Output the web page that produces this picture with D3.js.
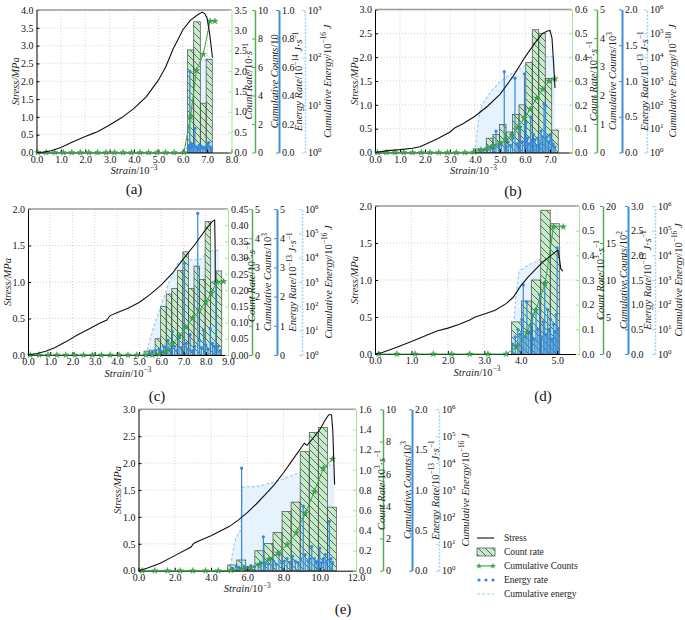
<!DOCTYPE html>
<html><head><meta charset="utf-8">
<script src="https://cdn.jsdelivr.net/npm/d3@7"></script>
<style>body{margin:0;background:#fff}svg{display:block}svg text{white-space:pre;font-family:"Liberation Serif","Times New Roman",serif}</style>
</head><body>
<svg id="chart" width="685" height="620"></svg>
<script>
// ---------------- DATA ----------------
// Panel (a)
const strainA = [0,0.3,0.6,1.0,1.5,2.0,2.3,2.5,3.0,3.5,4.0,4.5,5.0,5.3,5.6,6.0,6.3,6.6,6.8,6.9,7.0,7.1,7.22];
const stressA = [0,0.01,0.05,0.14,0.3,0.45,0.53,0.58,0.77,0.98,1.24,1.56,2.03,2.4,2.9,3.44,3.7,3.86,3.94,3.9,3.77,3.35,2.66];
const binsA = [6.2,6.45,6.72,6.96,7.21];
const countRateA = [2.52,3.21,1.21,2.29];
const cumCountStrainA = [0.05,0.4,0.75,1.1,1.45,1.8,2.15,2.5,2.85,3.2,3.55,3.9,4.25,4.6,4.95,5.3,5.65,6.05,6.32,6.56,6.84,7.12,7.32];
const cumCountsA = [0,0,0,0,0,0,0,0,0,0,0,0,0,0,0,0,0,0,2.5,5.75,6.89,9.22,9.22];
const energyStrainA = [6.22,6.27,6.29,6.33,6.38,6.44,6.5,6.55,6.61,6.67,6.73,6.8,6.87,6.94,7.01,7.07,7.13,7.18];
const energyRateA = [0.03,0.05,0.57,0.06,0.04,0.05,0.17,0.04,0.03,0.05,0.03,0.04,0.03,0.04,0.06,0.07,0.04,0.03];
const cumEnergyStrainA = [6.2,6.24,6.28,6.32,6.45,6.6,6.72,6.9,7.2];
const cumEnergyA = [1,6,30,50,55,70,88,90,92];

// Panel (b)
const strainB = [0,0.5,1.0,1.5,1.8,2.0,2.5,3.0,3.2,3.5,4.0,4.5,5.0,5.5,6.0,6.4,6.7,6.9,7.0,7.08,7.14,7.2];
const stressB = [0,0.04,0.06,0.09,0.12,0.17,0.29,0.43,0.52,0.6,0.76,0.97,1.22,1.58,2.0,2.3,2.5,2.55,2.56,2.4,1.9,1.35];
const binsB = [3.93,4.19,4.45,4.72,4.98,5.24,5.50,5.76,6.03,6.29,6.55,6.81,7.07,7.33];
const countRateB = [0.015,0.013,0.06,0.076,0.118,0.086,0.16,0.2,0.377,0.515,0.5,0.31,0.094];
const cumCountStrainB = [0.1,0.45,0.8,1.15,1.5,1.85,2.2,2.55,2.9,3.25,3.6,3.95,4.24,4.51,4.73,5.0,5.23,5.47,5.71,5.97,6.2,6.47,6.71,6.96,7.2];
const cumCountsB = [0,0,0,0,0,0,0,0,0,0,0,0.02,0.09,0.15,0.24,0.34,0.44,0.61,0.87,1.2,1.51,1.9,2.21,2.5,2.58];
const energyStrainB = [4.2,4.35,4.5,4.62,4.75,4.84,4.95,5.05,5.17,5.25,5.33,5.42,5.5,5.6,5.68,5.75,5.82,5.9,5.98,6.04,6.1,6.16,6.22,6.28,6.34,6.4,6.46,6.52,6.58,6.64,6.7,6.76,6.82,6.88,6.94,7.0,7.06,7.13,7.2];
const energyRateB = [0.02,0.04,0.05,0.08,0.06,0.3,0.1,0.12,1.13,0.08,0.15,0.1,0.2,1.04,0.12,0.08,0.36,0.15,1.1,0.42,0.2,0.12,0.5,0.15,0.25,0.18,0.1,0.2,0.12,0.3,0.22,0.68,0.66,0.22,0.15,0.25,0.17,0.12,0.08];
const cumEnergyStrainB = [4.0,4.08,4.15,4.25,4.4,4.6,4.8,5.0,5.3,5.6,5.8,6.0,6.3,6.5,6.7,7.0,7.2];
const cumEnergyB = [1,8,30,80,160,320,560,900,1600,2500,3200,4500,7000,8500,10000,10500,10500];

// Panel (c)
const strainC = [0,0.4,0.8,1.2,1.7,2.2,2.7,3.2,3.55,3.62,3.7,4.0,4.5,5.0,5.5,6.0,6.5,7.0,7.5,8.0,8.3,8.4,8.42,8.43];
const stressC = [0,0.02,0.05,0.1,0.18,0.27,0.35,0.43,0.48,0.51,0.54,0.58,0.64,0.72,0.83,0.96,1.12,1.32,1.51,1.72,1.83,1.85,1.5,1.0];
const binsC = [5.22,5.47,5.72,5.97,6.22,6.47,6.72,6.97,7.22,7.47,7.72,7.97,8.22,8.47,8.72];
const countRateC = [0.012,0.015,0.05,0.149,0.188,0.205,0.26,0.318,0.205,0.274,0.233,0.411,0.225,0.259];
const cumCountStrainC = [0.1,0.5,0.9,1.3,1.7,2.1,2.5,2.9,3.3,3.7,4.1,4.5,4.9,5.3,5.6,5.9,6.2,6.5,6.8,7.1,7.4,7.7,8.0,8.25,8.5,8.8];
const cumCountsC = [0,0,0,0,0,0,0,0,0,0,0,0,0,0,0,0.03,0.13,0.38,0.65,0.95,1.25,1.52,1.82,2.12,2.5,2.52];
const energyStrainC = [5.45,5.6,5.75,5.9,6.0,6.1,6.2,6.3,6.4,6.5,6.6,6.7,6.8,6.9,7.04,7.12,7.2,7.3,7.4,7.5,7.64,7.72,7.8,7.9,8.0,8.1,8.2,8.3,8.38,8.45,8.55,8.65];
const energyRateC = [0.08,0.1,0.15,0.2,0.12,0.3,0.25,0.5,0.2,0.8,0.3,0.15,0.6,0.25,3.14,0.4,0.2,0.7,0.15,0.3,4.85,0.5,0.25,0.85,0.35,0.2,0.9,0.4,0.3,2.45,0.3,0.15];
const cumEnergyStrainC = [5.3,5.45,5.6,5.75,5.9,6.05,6.2,6.35,6.5,6.65,6.8,7.0,7.5,7.85,8.0,8.3,8.6];
const cumEnergyC = [1,3,10,25,63,160,400,1000,2000,4000,7000,8000,8300,9000,16000,19000,20000];

// Panel (d)
const strainD = [0,0.2,0.6,1.0,1.4,1.7,2.0,2.3,2.6,2.75,3.0,3.3,3.6,3.8,4.0,4.2,4.4,4.6,4.8,4.95,5.02,5.06,5.1,5.16];
const stressD = [0,0.02,0.09,0.17,0.25,0.31,0.35,0.4,0.46,0.5,0.54,0.59,0.68,0.77,0.92,1.04,1.14,1.24,1.32,1.38,1.4,1.3,1.15,1.12];
const binsD = [3.75,4.02,4.29,4.55,4.81,5.06];
const countRateD = [0.13,0.215,0.3,0.583,0.528];
const cumCountStrainD = [0.1,0.6,1.1,1.6,2.1,2.6,3.1,3.6,3.89,4.17,4.41,4.67,4.9,5.17];
const cumCountsD = [0,0,0,0,0,0,0,0,1.0,2.9,5.9,9.5,17.2,17.2];
const energyStrainD = [3.78,3.85,3.92,3.98,4.03,4.07,4.12,4.17,4.22,4.27,4.32,4.37,4.42,4.47,4.52,4.57,4.62,4.66,4.7,4.74,4.78,4.82,4.86,4.9,4.94,4.97,5.0,5.03];
const energyRateD = [0.2,0.35,0.5,0.4,0.7,1.4,0.35,1.05,0.45,0.6,0.8,0.3,0.9,0.5,1.2,0.35,0.65,1.45,0.4,0.9,0.5,0.7,0.3,0.6,0.45,0.8,2.15,0.5];
const cumEnergyStrainD = [3.75,3.8,3.85,3.9,3.95,4.0,4.2,4.5,4.8,5.0,5.1];
const cumEnergyD = [1,10,100,600,2000,2500,4000,6300,12600,20000,20000];

// Panel (e)
const strainE = [0,0.5,1.2,2.0,2.9,3.0,3.1,4.0,5.0,5.5,6.0,6.5,7.0,7.5,8.0,8.5,9.0,9.15,9.3,9.6,10.0,10.3,10.5,10.65,10.72,10.78,10.82];
const stressE = [0,0.05,0.14,0.28,0.44,0.49,0.52,0.65,0.82,0.94,1.08,1.24,1.42,1.6,1.82,2.06,2.3,2.37,2.33,2.45,2.62,2.8,2.9,2.9,2.6,2.0,1.6];
const binsE = [4.92,5.42,5.92,6.42,6.92,7.42,7.92,8.42,8.92,9.42,9.92,10.42,10.92];
const countRateE = [0.057,0.106,0.012,0.198,0.27,0.377,0.586,0.68,1.18,1.37,1.42,0.63];
const cumCountStrainE = [0.2,0.9,1.6,2.3,3.0,3.7,4.4,5.1,5.7,6.2,6.7,7.2,7.7,8.2,8.7,9.2,9.7,10.2,10.7];
const cumCountsE = [0,0,0,0,0,0,0,0.03,0.1,0.2,0.4,0.7,1.1,1.62,2.35,3.55,4.9,6.35,6.92];
const energyStrainE = [5.2,5.4,5.55,5.69,5.85,6.0,6.2,6.4,6.6,6.75,6.89,7.0,7.15,7.3,7.45,7.6,7.75,7.9,8.05,8.2,8.35,8.5,8.65,8.8,8.95,9.09,9.2,9.35,9.45,9.56,9.7,9.8,9.9,10.0,10.1,10.2,10.3,10.4,10.53,10.62,10.7];
const energyRateE = [0.03,0.05,0.04,1.27,0.05,0.04,0.06,0.05,0.08,0.1,0.42,0.1,0.08,0.15,0.12,0.08,0.2,0.1,0.12,0.15,0.1,0.18,0.12,0.1,0.15,0.8,0.2,0.12,0.15,0.3,0.15,0.1,0.12,0.28,0.1,0.15,0.2,0.12,0.61,0.15,0.1];
const cumEnergyStrainE = [5.05,5.2,5.35,5.5,5.65,5.72,6.0,6.5,7.0,7.5,8.0,8.5,9.0,9.5,10.0,10.5,10.8];
const cumEnergyE = [1,5,15,25,32,1260,1320,1350,1600,2000,2600,3550,4800,6000,7100,8300,8900];

// Tick values
const xTicksA = [0,1,2,3,4,5,6,7,8];
const xTicksB = [0,1,2,3,4,5,6,7];
const xTicksC = [0,1,2,3,4,5,6,7,8,9];
const xTicksD = [0,1,2,3,4,5];
const xTicksE = [0,2,4,6,8,10,12];
const stressTicksA = [0,0.5,1,1.5,2,2.5,3,3.5,4];
const stressTicks3 = [0,0.5,1,1.5,2,2.5,3];
const stressTicks2 = [0,0.5,1,1.5,2];
const rateTicksA = [0,0.5,1,1.5,2,2.5,3,3.5];
const rateTicksB = [0,0.1,0.2,0.3,0.4,0.5,0.6];
const rateTicksC = [0,0.05,0.1,0.15,0.2,0.25,0.3,0.35,0.4,0.45];
const rateTicksE = [0,0.2,0.4,0.6,0.8,1.0,1.2,1.4,1.6];
const cumTicksA = [0,2,4,6,8,10];
const cumTicks5 = [0,1,2,3,4,5];
const cumTicksD = [0,5,10,15,20];
const energyTicksA = [0,0.2,0.4,0.6,0.8,1.0];
const energyTicks2 = [0,0.5,1.0,1.5,2.0];
const energyTicksC = [0,1,2,3,4,5];
const energyTicksD = [0,0.5,1.0,1.5,2.0,2.5,3.0];
const logTicks3 = [1,10,100,1000];
const logTicks6 = [1,10,100,1000,1e4,1e5,1e6];

const labelsA = ["Count Rate/10·s^{−1}","Cumulative Counts/10","Energy Rate/10^{−14} J·s^{−1}","Cumulative Energy/10^{−16} J"];
const labelsB = ["Count Rate/10^{3}·s^{−1}","Cumulative Counts/10^{3}","Energy Rate/10^{−13} J·s^{−1}","Cumulative Energy/10^{−18} J"];
const labelsC = ["Count Rate/10^{3}·s^{−1}","Cumulative Counts/10^{3}","Energy Rate/10^{−13} J·s^{−1}","Cumulative Energy/10^{−16} J"];
const labelsD = ["Count Rate/10^{3}·s^{−1}","Cumulative Counts/10^{2}","Energy Rate/10^{−13} J·s^{−1}","Cumulative Energy/10^{−16} J"];
const labelsE = ["Count Rate/10^{3}·s^{−1}","Cumulative Counts/10^{3}","Energy Rate/10^{−13} J·s^{−1}","Cumulative Energy/10^{−16} J"];
const legendItems = ["Stress","Count rate","Cumulative Counts","Energy rate","Cumulative energy"];

// ---------------- STYLE / LAYOUT ----------------
const C = {rateAxis:'#9fe89f', cumAxis:'#4caf50', eAxis:'#3d8fd8', ceAxis:'#9fd2f4',
  bar:'#c4ecc9', cum:'#3aa84a', e:'#3388dd', ceFill:'#e6f2fc', ceLine:'#9ccff2'};

const svg = d3.select('#chart');
const defs = svg.append('defs');
const pat = defs.append('pattern').attr('id','hatch').attr('patternUnits','userSpaceOnUse').attr('width',7).attr('height',7);
pat.append('path').attr('d','M-1,-1 L8,8 M-1,6 L1,8 M6,-1 L8,1').attr('stroke','#333').attr('stroke-width',0.7).attr('fill','none');

function rich(textSel, str, size){
  const re = /\^\{([^}]*)\}/g; let last=0, m; const parts=[];
  while((m=re.exec(str))){ if(m.index>last) parts.push({t:str.slice(last,m.index),sup:false}); parts.push({t:m[1],sup:true}); last=re.lastIndex; }
  if(last<str.length) parts.push({t:str.slice(last),sup:false});
  let prevSup=false;
  parts.forEach(pt=>{
    const runs = pt.t.match(/[A-Za-z]+|[^A-Za-z]+/g)||[];
    runs.forEach((r,i)=>{
      const ts = textSel.append('tspan').text(r).attr('font-style', /[A-Za-z]/.test(r)?'italic':'normal');
      if(pt.sup) ts.attr('font-size', size*0.7);
      if(i===0){
        if(pt.sup && !prevSup) ts.attr('dy', -size*0.42);
        if(!pt.sup && prevSup) ts.attr('dy', size*0.42);
      }
    });
    prevSup = pt.sup;
  });
}

const zipXY = (a,b)=>a.map((v,i)=>[v,b[i]]);

const panels = [
 {id:'a', box:{x0:36.5,x1:231.5,y0:10,y1:152.5}, xMax:8, xTicks:xTicksA, stressMax:4, stressTicks:stressTicksA,
  rateMax:3.5, rateTicks:rateTicksA, rateFmt:'.1f', cumMax:10, cumTicks:cumTicksA, eMax:1, eTicks:energyTicksA, eFmt:'.1f',
  ceMax:1e3, ceTicks:logTicks3, axes:[231.5,255,279,305], labelX:[248.5,274,298.5,327], labels:labelsA,
  strain:strainA, stress:stressA, bins:binsA, rate:countRateA, cx:cumCountStrainA, cc:cumCountsA,
  ex:energyStrainA, er:energyRateA, gx:cumEnergyStrainA, ge:cumEnergyA, tag:'(a)', tagPos:[134,194]},
 {id:'b', box:{x0:375,x1:572,y0:9.5,y1:152.5}, xMax:7.88, xTicks:xTicksB, stressMax:3, stressTicks:stressTicks3,
  rateMax:0.6, rateTicks:rateTicksB, rateFmt:'.1f', cumMax:5, cumTicks:cumTicks5, eMax:2, eTicks:energyTicks2, eFmt:'.1f',
  ceMax:1e6, ceTicks:logTicks6, axes:[572,597,622,647], labelX:[593,612.5,644,672], labels:labelsB,
  strain:strainB, stress:stressB, bins:binsB, rate:countRateB, cx:cumCountStrainB, cc:cumCountsB,
  ex:energyStrainB, er:energyRateB, gx:cumEnergyStrainB, ge:cumEnergyB, tag:'(b)', tagPos:[513,196]},
 {id:'c', box:{x0:28,x1:228,y0:209,y1:355}, xMax:9, xTicks:xTicksC, stressMax:2, stressTicks:stressTicks2,
  rateMax:0.45, rateTicks:rateTicksC, rateFmt:'.2f', cumMax:5, cumTicks:cumTicks5, eMax:5, eTicks:energyTicksC, eFmt:'d',
  ceMax:1e6, ceTicks:logTicks6, axes:[228,252,277,302], labelX:[251,267.5,292.5,328], labels:labelsC,
  strain:strainC, stress:stressC, bins:binsC, rate:countRateC, cx:cumCountStrainC, cc:cumCountsC,
  ex:energyStrainC, er:energyRateC, gx:cumEnergyStrainC, ge:cumEnergyC, tag:'(c)', tagPos:[157,401]},
 {id:'d', box:{x0:375,x1:579,y0:206,y1:354}, xMax:5.6, xTicks:xTicksD, stressMax:2, stressTicks:stressTicks2,
  rateMax:0.6, rateTicks:rateTicksB, rateFmt:'.1f', cumMax:20, cumTicks:cumTicksD, eMax:3, eTicks:energyTicksD, eFmt:'.1f',
  ceMax:1e6, ceTicks:logTicks6, axes:[579,603,628,655], labelX:[600,623,647,678], labels:labelsD,
  strain:strainD, stress:stressD, bins:binsD, rate:countRateD, cx:cumCountStrainD, cc:cumCountsD,
  ex:energyStrainD, er:energyRateD, gx:cumEnergyStrainD, ge:cumEnergyD, tag:'(d)', tagPos:[543,401]},
 {id:'e', box:{x0:138.5,x1:356,y0:409.3,y1:570.7}, xMax:12, xTicks:xTicksE, stressMax:3, stressTicks:stressTicks3,
  rateMax:1.6, rateTicks:rateTicksE, rateFmt:'.1f', cumMax:10, cumTicks:cumTicksA, eMax:2, eTicks:energyTicks2, eFmt:'.1f',
  ceMax:1e6, ceTicks:logTicks6, axes:[356,383,412,439], labelX:[381,407,435,465], labels:labelsE,
  strain:strainE, stress:stressE, bins:binsE, rate:countRateE, cx:cumCountStrainE, cc:cumCountsE,
  ex:energyStrainE, er:energyRateE, gx:cumEnergyStrainE, ge:cumEnergyE, tag:'(e)', tagPos:[343,614]}
];

function styleAxis(g, color){
  g.attr('font-family', null).attr('font-size', 10);
  g.selectAll('text').attr('fill','#111');
  g.select('.domain').attr('stroke', color);
  g.selectAll('.tick line').attr('stroke', color);
}

function drawPanel(P){
  const g = svg.append('g');
  const {x0,x1,y0,y1} = P.box;
  const x = d3.scaleLinear().domain([0,P.xMax]).range([x0,x1]);
  const yS = d3.scaleLinear().domain([0,P.stressMax]).range([y1,y0]);
  const yR = d3.scaleLinear().domain([0,P.rateMax]).range([y1,y0]);
  const yC = d3.scaleLinear().domain([0,P.cumMax]).range([y1,y0]);
  const yE = d3.scaleLinear().domain([0,P.eMax]).range([y1,y0]);
  const yL = d3.scaleLog().domain([1,P.ceMax]).range([y1,y0]);

  // grid
  const grid = g.append('g').attr('stroke','#c4c4c4').attr('stroke-width',0.8).attr('stroke-dasharray','1,2');
  grid.selectAll('line.gv').data(P.xTicks.filter(d=>d>0 && d<P.xMax)).join('line').attr('class','gv')
    .attr('x1',d=>x(d)).attr('x2',d=>x(d)).attr('y1',y0).attr('y2',y1);
  grid.selectAll('line.gh').data(P.stressTicks.filter(d=>d>0 && d<P.stressMax)).join('line').attr('class','gh')
    .attr('x1',x0).attr('x2',x1).attr('y1',d=>yS(d)).attr('y2',d=>yS(d));

  // cumulative energy (log)
  const ce = zipXY(P.gx,P.ge);
  g.append('path').datum(ce).attr('fill',C.ceFill).attr('stroke','none')
    .attr('d', d3.area().x(d=>x(d[0])).y0(y1).y1(d=>yL(d[1])));
  g.append('path').datum(ce).attr('fill','none').attr('stroke',C.ceLine).attr('stroke-width',1.2).attr('stroke-dasharray','3,2')
    .attr('d', d3.line().x(d=>x(d[0])).y(d=>yL(d[1])));

  // count-rate bars
  const bars = P.rate.map((v,i)=>({a:P.bins[i], b:P.bins[i+1], v}));
  const bg = g.append('g');
  bg.selectAll('rect.f').data(bars).join('rect').attr('class','f')
    .attr('x',d=>x(d.a)).attr('width',d=>x(d.b)-x(d.a)).attr('y',d=>yR(d.v)).attr('height',d=>y1-yR(d.v)).attr('fill',C.bar);
  bg.selectAll('rect.h').data(bars).join('rect').attr('class','h')
    .attr('x',d=>x(d.a)).attr('width',d=>x(d.b)-x(d.a)).attr('y',d=>yR(d.v)).attr('height',d=>y1-yR(d.v))
    .attr('fill','url(#hatch)').attr('stroke','#4a4a4a').attr('stroke-width',0.7);

  // energy rate stems
  const er = zipXY(P.ex,P.er);
  const eg = g.append('g');
  eg.selectAll('line').data(er).join('line').attr('x1',d=>x(d[0])).attr('x2',d=>x(d[0])).attr('y1',y1).attr('y2',d=>yE(d[1]))
    .attr('stroke',C.e).attr('stroke-width',1.2);
  eg.selectAll('circle').data(er).join('circle').attr('cx',d=>x(d[0])).attr('cy',d=>yE(d[1])).attr('r',1.6).attr('fill',C.e);

  // axes
  const ax = g.append('g');
  const bottom = ax.append('g').attr('transform',`translate(0,${y1})`)
    .call(d3.axisBottom(x).tickValues(P.xTicks).tickFormat(d3.format('.1f')).tickSize(-3).tickSizeOuter(0).tickPadding(3));
  styleAxis(bottom,'#000');
  const left = ax.append('g').attr('transform',`translate(${x0},0)`)
    .call(d3.axisLeft(yS).tickValues(P.stressTicks).tickFormat(d3.format('.1f')).tickSize(-3).tickSizeOuter(0).tickPadding(3));
  styleAxis(left,'#000');
  ax.append('line').attr('x1',x0).attr('x2',x1).attr('y1',y0).attr('y2',y0).attr('stroke','#999').attr('stroke-width',1.5);

  const rightDefs = [
    {scale:yR, ticks:P.rateTicks, fmt:d3.format(P.rateFmt), color:C.rateAxis, w:1},
    {scale:yC, ticks:P.cumTicks, fmt:d3.format('d'), color:C.cumAxis, w:1.5},
    {scale:yE, ticks:P.eTicks, fmt:d3.format(P.eFmt), color:C.eAxis, w:2},
    {scale:yL, ticks:P.ceTicks, fmt:()=>'', color:C.ceAxis, w:1.5, log:true}
  ];
  rightDefs.forEach((r,i)=>{
    const ag = ax.append('g').attr('transform',`translate(${P.axes[i]},0)`)
      .call(d3.axisRight(r.scale).tickValues(r.ticks).tickFormat(r.fmt).tickSize(-3).tickSizeOuter(0).tickPadding(3));
    styleAxis(ag, r.color);
    ag.select('.domain').attr('stroke-width', r.w);
    if(r.log){
      ag.select('.domain').attr('stroke-dasharray','2,1.5');
      ag.selectAll('.tick text').each(function(d){
        const t = d3.select(this); t.text(null);
        t.append('tspan').text('10');
        t.append('tspan').attr('dy',-4).attr('font-size',7).text(Math.round(Math.log10(d)));
      });
    }
    const ym = (y0+y1)/2;
    const lt = svg.append('text').attr('transform',`translate(${P.labelX[i]+3.6},${ym}) rotate(-90)`)
      .attr('text-anchor','middle').attr('font-size',10.5).attr('fill','#222');
    rich(lt, P.labels[i], 10.5);
  });

  // cumulative counts
  const cc = zipXY(P.cx,P.cc);
  g.append('path').datum(cc).attr('fill','none').attr('stroke',C.cum).attr('stroke-width',1)
    .attr('d', d3.line().x(d=>x(d[0])).y(d=>yC(d[1])));
  g.append('g').selectAll('path').data(cc).join('path')
    .attr('transform',d=>`translate(${x(d[0])},${yC(d[1])})`)
    .attr('d', d3.symbol(d3.symbolStar, 13)).attr('fill',C.cum).attr('stroke','#2a7a35').attr('stroke-width',0.3);

  // stress
  g.append('path').datum(zipXY(P.strain,P.stress)).attr('fill','none').attr('stroke','#111').attr('stroke-width',1.1)
    .attr('d', d3.line().x(d=>x(d[0])).y(d=>yS(d[1])));

  // titles
  const st = svg.append('text').attr('transform',`translate(${x0-21+3.6},${(y0+y1)/2}) rotate(-90)`)
    .attr('text-anchor','middle').attr('font-size',10.5).attr('fill','#222');
  rich(st, 'Stress/MPa', 10.5);
  st.selectAll('tspan').attr('font-style','italic');
  const xt = svg.append('text').attr('x',(x0+x1)/2).attr('y',y1+21.5).attr('text-anchor','middle').attr('font-size',10.5).attr('fill','#222');
  rich(xt, 'Strain/10^{−3}', 10.5);
  svg.append('text').attr('x',P.tagPos[0]).attr('y',P.tagPos[1]).attr('text-anchor','middle')
    .attr('font-size',15).attr('fill','#111').text(P.tag);
}

panels.forEach(drawPanel);

// legend
const lg = svg.append('g').attr('font-size',9.5).attr('fill','#222');
const ly = [538,552,566,580,594];
lg.append('line').attr('x1',477).attr('x2',494).attr('y1',ly[0]).attr('y2',ly[0]).attr('stroke','#111').attr('stroke-width',1.1);
lg.append('rect').attr('x',477).attr('y',ly[1]-4).attr('width',18).attr('height',8).attr('fill',C.bar);
lg.append('rect').attr('x',477).attr('y',ly[1]-4).attr('width',18).attr('height',8).attr('fill','url(#hatch)').attr('stroke','#4a4a4a').attr('stroke-width',0.7);
lg.append('line').attr('x1',479).attr('x2',493).attr('y1',ly[2]).attr('y2',ly[2]).attr('stroke',C.cum).attr('stroke-width',1.1);
lg.selectAll('path.ls').data([479,493]).join('path').attr('class','ls').attr('transform',d=>`translate(${d},${ly[2]})`)
  .attr('d', d3.symbol(d3.symbolStar,13)).attr('fill',C.cum);
lg.selectAll('circle').data([479,486,493]).join('circle').attr('cx',d=>d).attr('cy',ly[3]).attr('r',1.6).attr('fill',C.e);
lg.append('line').attr('x1',477).attr('x2',494).attr('y1',ly[4]).attr('y2',ly[4]).attr('stroke',C.ceLine).attr('stroke-width',1.2).attr('stroke-dasharray','3,2');
lg.selectAll('text').data(legendItems).join('text').attr('x',504).attr('y',(d,i)=>ly[i]+3.3).text(d=>d);
</script>
</body></html>
